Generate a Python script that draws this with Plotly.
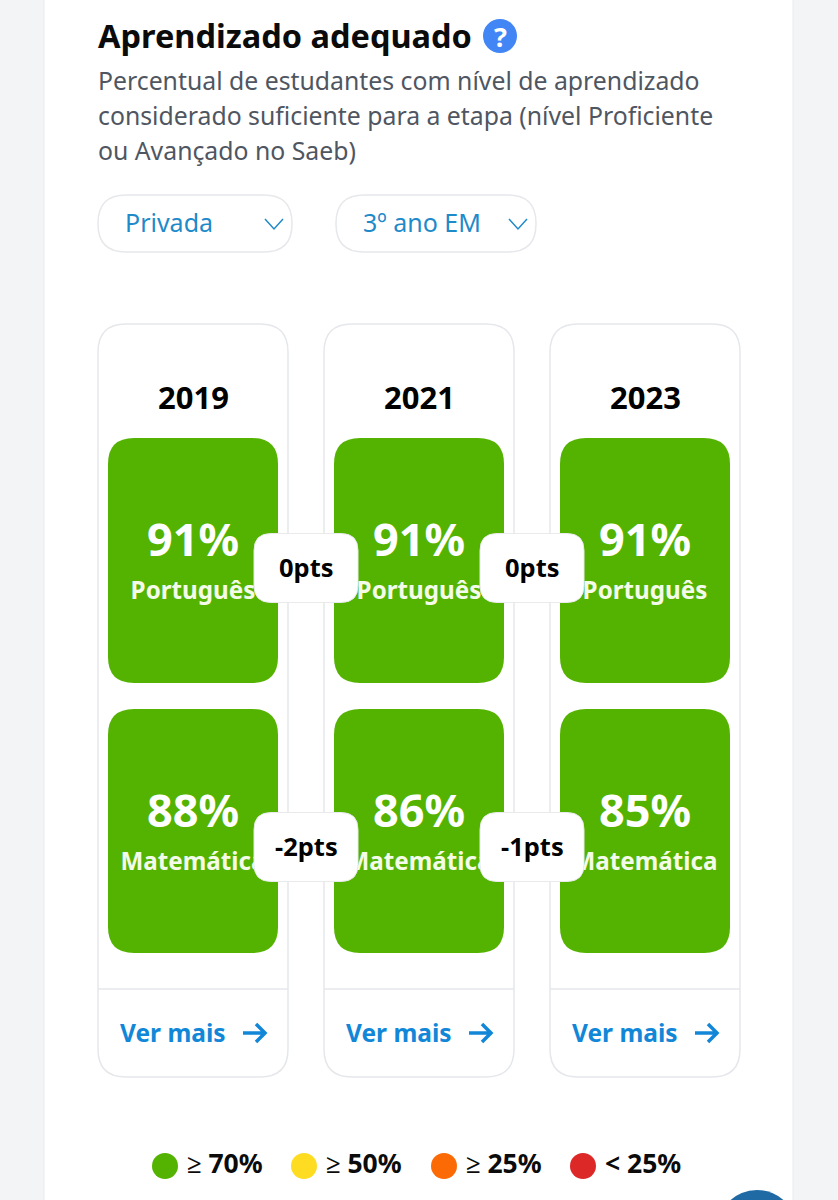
import plotly.graph_objects as go

years = ["2019", "2021", "2023"]
subjects = ["Português", "Matemática"]
portugues = [91, 91, 91]
matematica = [88, 86, 85]
diff_portugues = [0, 0]
diff_matematica = [-2, -1]
legend_labels = ["≥ 70%", "≥ 50%", "≥ 25%", "< 25%"]
legend_colors = ["#54b300", "#fddc22", "#fb6a05", "#dd2828"]
subtitle = ["Percentual de estudantes com nível de aprendizado",
            "considerado suficiente para a etapa (nível Proficiente",
            "ou Avançado no Saeb)"]

FONT = "Noto Sans"
GREEN = "#54b300"
BLUE = "#1287d8"
BORDER = "#e5e7eb"

card_x = [98, 324, 550]
row_y = [(438, 683), (709, 953)]


def rrect(x0, y0, x1, y1, r):
    return (f"M {x0+r} {y0} L {x1-r} {y0} Q {x1} {y0} {x1} {y0+r} L {x1} {y1-r} Q {x1} {y1} {x1-r} {y1} "
            f"L {x0+r} {y1} Q {x0} {y1} {x0} {y1-r} L {x0} {y0+r} Q {x0} {y0} {x0+r} {y0} Z")


def box(x0, y0, x1, y1, r, fill, line=None, width=1.5, layer="below"):
    return dict(type="path", path=rrect(x0, y0, x1, y1, r), fillcolor=fill, layer=layer,
                line=dict(color=line or fill, width=width if line else 0))


def text(x, y, s, size, color, bold=False, anchor="center"):
    return dict(x=x, y=y, text=f"<b>{s}</b>" if bold else s, showarrow=False, xanchor=anchor, yanchor="middle",
                font=dict(family=FONT, size=size, color=color))


shapes = []
annotations = []

# pagina
shapes.append(dict(type="rect", x0=44, x1=793, y0=-5, y1=1205, fillcolor="white", layer="below",
                   line=dict(color="#e9ebee", width=1)))
shapes.append(dict(type="circle", x0=717, x1=797, y0=1190, y1=1270, fillcolor="#1f6aa5", layer="below", line_width=0))

# cabecalho
annotations.append(text(96, 35, "Aprendizado adequado", 32.5, "#0b0b0b", True, "left"))
shapes.append(dict(type="circle", x0=483, x1=517, y0=19, y1=53, fillcolor="#4285f4", layer="below", line_width=0))
annotations.append(text(500, 36, "?", 27, "white", True))
for i, line in enumerate(subtitle):
    annotations.append(text(96, 80 + i * 35, line, 24.8, "#4f5661", False, "left"))

# filtros
for x0, x1, label in [(98, 292, "Privada"), (336, 536, "3º ano EM")]:
    shapes.append(box(x0, 195, x1, 252, 28, "white", "#e6e8eb"))
    annotations.append(text(x0 + 25, 222, label, 25, "#1f8ac9", False, "left"))
    shapes.append(dict(type="path", path=f"M {x1-27} 219 L {x1-18} 229 L {x1-9} 219", layer="below",
                       line=dict(color="#1f8ac9", width=1.5)))

# cards
tile_x, tile_y, tile_text = [], [], []
label_x, label_y, label_text = [], [], []
for i, year in enumerate(years):
    x = card_x[i]
    shapes.append(box(x, 324, x + 190, 1077, 28, "white", BORDER))
    shapes.append(dict(type="line", x0=x, x1=x + 190, y0=989, y1=989, layer="below",
                       line=dict(color=BORDER, width=1.5)))
    annotations.append(text(x + 95, 397, year, 31, "black", True))
    for j, values in enumerate([portugues, matematica]):
        y0, y1 = row_y[j]
        shapes.append(box(x + 10, y0, x + 180, y1, 26, GREEN))
        tile_x.append(x + 95)
        tile_y.append(y0 + 107)
        tile_text.append(f"<b>{values[i]}%</b>")
        label_x.append(x + 95)
        label_y.append(y0 + 155)
        label_text.append(f"<b>{subjects[j]}</b>")
    annotations.append(text(x + 20, 1032, "Ver mais", 24.5, BLUE, True, "left"))
    shapes.append(dict(type="path", path=f"M {x+145} 1033 L {x+166} 1033 M {x+158} 1024 L {x+167} 1033 L {x+158} 1042",
                       layer="below", line=dict(color=BLUE, width=3.5)))

# variacao entre edicoes
for j, diffs in enumerate([diff_portugues, diff_matematica]):
    for i, d in enumerate(diffs):
        cx = (card_x[i] + card_x[i + 1] + 190) / 2
        cy = 568 if j == 0 else 847
        shapes.append(box(cx - 52, cy - 34.5, cx + 52, cy + 34.5, 17, "white", "#e8eaec", 1, "above"))
        annotations.append(text(cx, cy - 1, f"{d}pts", 25.5, "black", True))

# legenda
legend_x = [165, 304, 444, 583]
for x, label in zip(legend_x, legend_labels):
    annotations.append(text(x + 20, 1163, label, 26.5, "#0b0b0b", True, "left"))

fig = go.Figure()
fig.add_trace(go.Scatter(x=tile_x, y=tile_y, mode="text", text=tile_text, textposition="middle center",
                         textfont=dict(family=FONT, size=45, color="white")))
fig.add_trace(go.Scatter(x=label_x, y=label_y, mode="text", text=label_text, textposition="middle center",
                         textfont=dict(family=FONT, size=24.2, color="#f4fbe9")))
fig.add_trace(go.Scatter(x=legend_x, y=[1166] * 4, mode="markers",
                         marker=dict(size=26, color=legend_colors, line_width=0)))
fig.update_layout(width=838, height=1200, margin=dict(l=0, r=0, t=0, b=0), showlegend=False,
                  plot_bgcolor="#f3f4f6", paper_bgcolor="#f3f4f6", shapes=shapes, annotations=annotations,
                  hovermode=False)
fig.update_xaxes(range=[0, 838], visible=False, fixedrange=True)
fig.update_yaxes(range=[1200, 0], visible=False, fixedrange=True)
fig.write_html("out.html", config=dict(displayModeBar=False),
               post_script="document.body.style.margin='0';document.body.style.overflow='hidden';")
